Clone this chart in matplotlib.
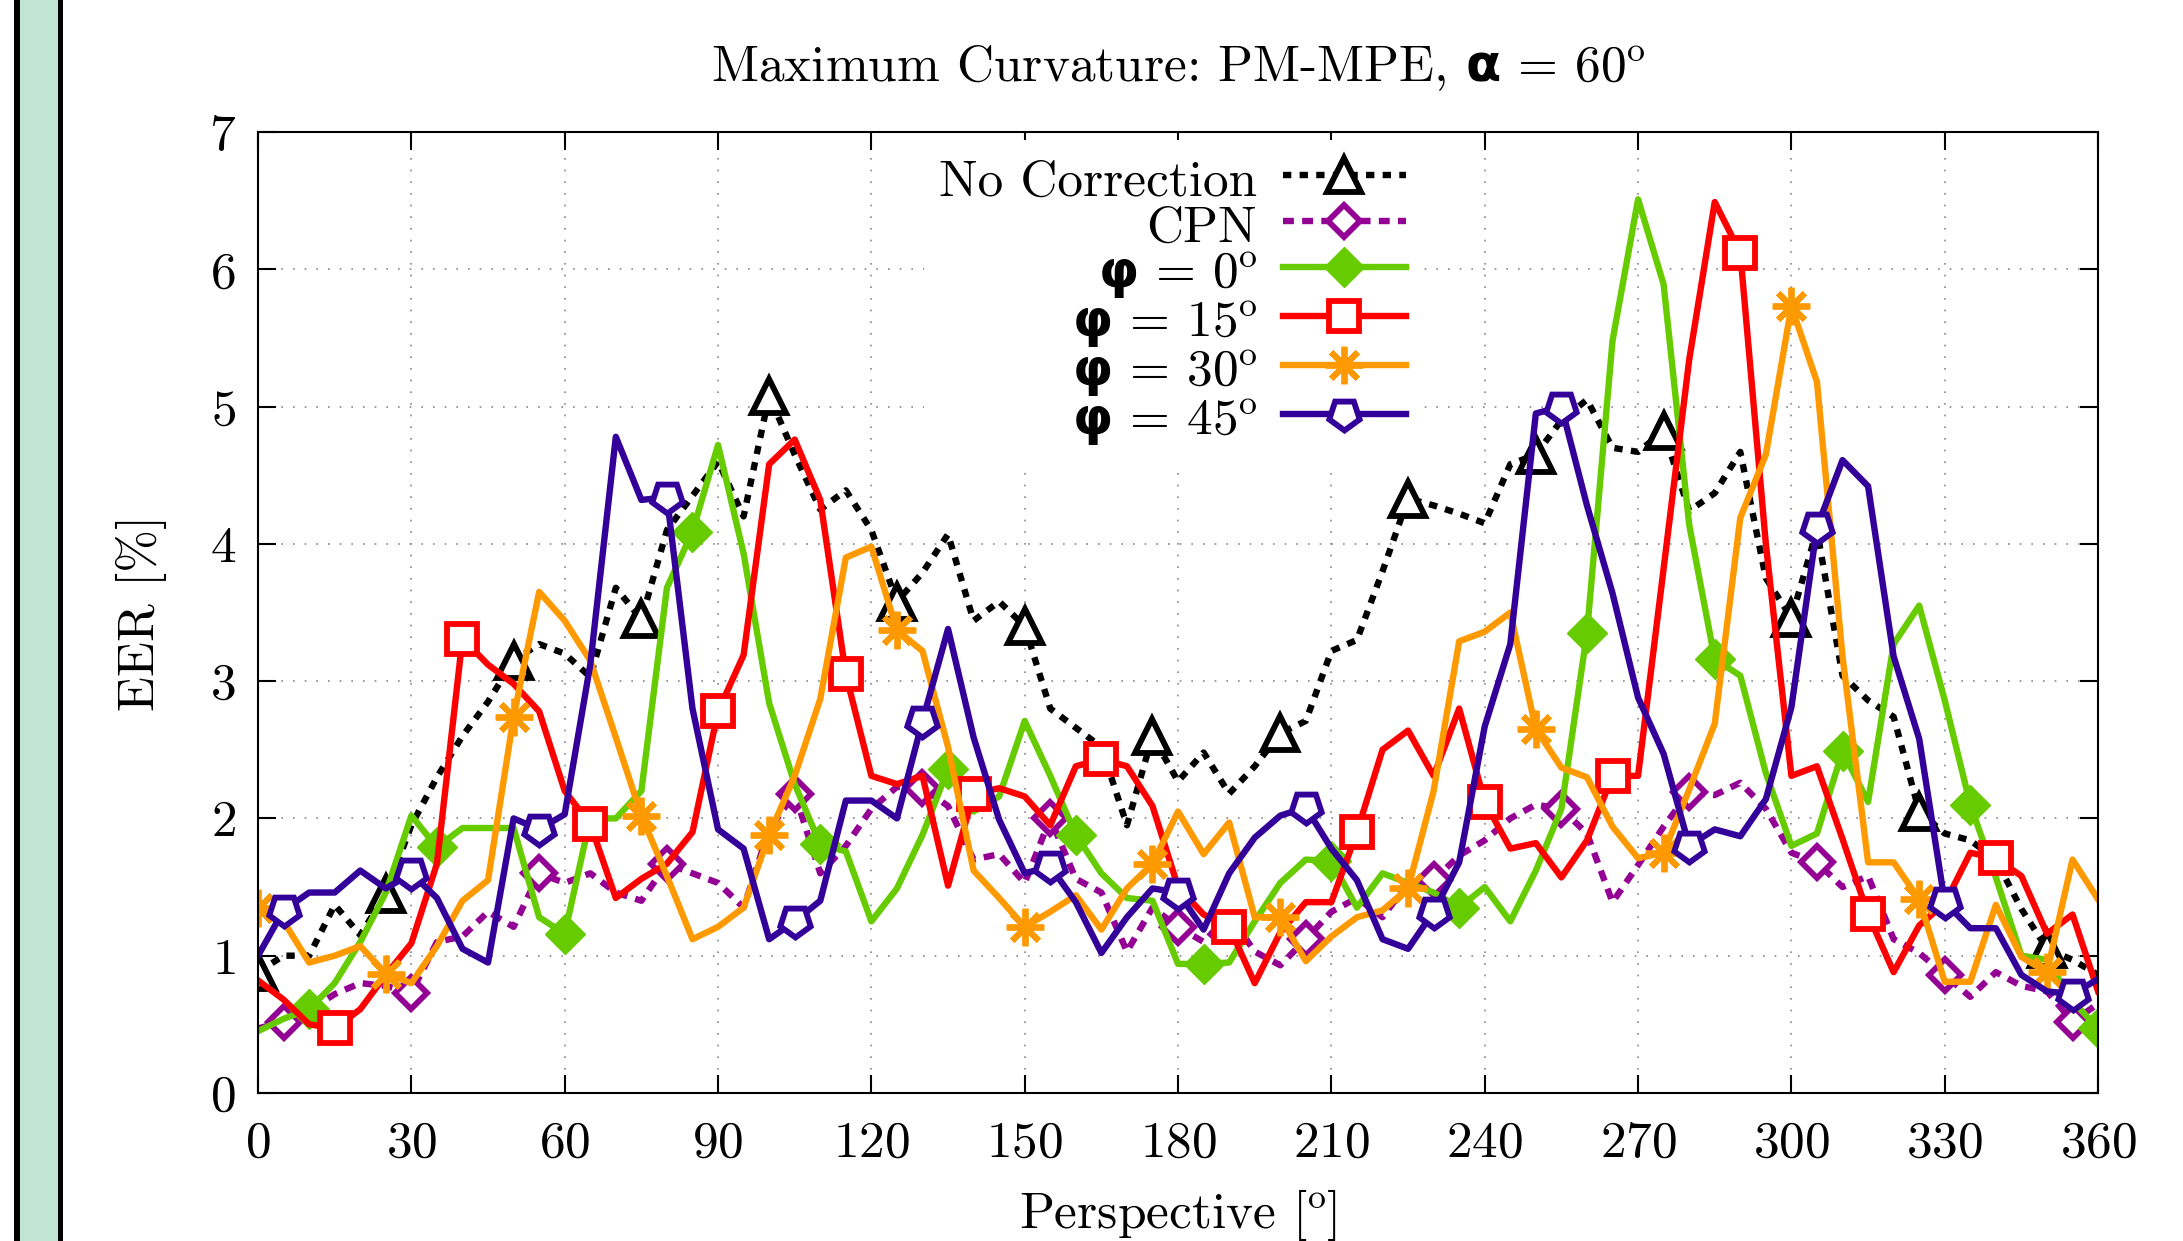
import numpy as np
import matplotlib
matplotlib.use("Agg")
import matplotlib.pyplot as plt
from matplotlib.patches import Rectangle

plt.rcParams['font.family'] = ['cmr10']
plt.rcParams['mathtext.fontset'] = 'custom'
plt.rcParams['mathtext.rm'] = 'cmr10'
plt.rcParams['mathtext.sf'] = 'DejaVu Sans:bold'
plt.rcParams['axes.formatter.use_mathtext'] = True

# perspective angles, every 5 degrees
angles = np.arange(0, 361, 5)

no_correction = [
    0.88, 1.0, 1.0, 1.37, 1.15, 1.45, 1.95, 2.3, 2.6, 2.85, 3.15, 3.27,
    3.2, 3.03, 3.68, 3.45, 4.1, 4.35, 4.6, 4.2, 5.08, 4.65, 4.25, 4.39,
    4.1, 3.58, 3.79, 4.07, 3.44, 3.58, 3.4, 2.8, 2.66, 2.52, 1.95, 2.6,
    2.27, 2.48, 2.18, 2.38, 2.62, 2.71, 3.22, 3.3, 3.8, 4.33, 4.28, 4.22,
    4.15, 4.58, 4.65, 4.9, 5.05, 4.7, 4.67, 4.82, 4.24, 4.37, 4.67, 3.75,
    3.46, 4.1, 3.04, 2.86, 2.74, 2.05, 1.89, 1.84, 1.7, 1.34, 1.05, 0.97,
    0.86]
cpn = [
    0.47, 0.52, 0.6, 0.72, 0.8, 0.78, 0.73, 1.1, 1.14, 1.32, 1.21, 1.6,
    1.53, 1.6, 1.46, 1.4, 1.67, 1.6, 1.53, 1.35, 1.92, 2.18, 1.6, 1.8,
    2.07, 2.23, 2.22, 2.09, 1.7, 1.74, 1.53, 2.0, 1.56, 1.46, 1.03, 1.35,
    1.21, 1.1, 1.3, 1.03, 0.93, 1.12, 1.32, 1.42, 1.28, 1.53, 1.55, 1.73,
    1.84, 2.0, 2.1, 2.07, 1.89, 1.39, 1.66, 1.94, 2.19, 2.17, 2.26, 2.07,
    1.75, 1.68, 1.5, 1.58, 1.12, 1.02, 0.86, 0.7, 0.88, 0.78, 0.74, 0.52,
    0.65]
phi0 = [
    0.45, 0.54, 0.61, 0.8, 1.1, 1.46, 2.02, 1.79, 1.93, 1.93, 1.93, 1.28,
    1.16, 2.0, 2.0, 2.2, 3.68, 4.09, 4.72, 3.93, 2.84, 2.25, 1.81, 1.76,
    1.25, 1.49, 1.88, 2.36, 2.05, 2.16, 2.71, 2.31, 1.88, 1.6, 1.42, 1.4,
    0.94, 0.94, 0.95, 1.25, 1.53, 1.7, 1.69, 1.35, 1.6, 1.53, 1.46, 1.35,
    1.5, 1.25, 1.62, 2.07, 3.35, 5.48, 6.51, 5.89, 4.14, 3.16, 3.04, 2.33,
    1.8, 1.89, 2.49, 2.12, 3.27, 3.55, 2.86, 2.1, 1.57, 1.0, 0.97, 0.67,
    0.47]
phi15 = [
    0.82, 0.68, 0.5, 0.47, 0.61, 0.86, 1.09, 1.67, 3.31, 3.12, 2.98, 2.78,
    2.2, 1.96, 1.42, 1.56, 1.67, 1.9, 2.78, 3.19, 4.58, 4.76, 4.32, 3.05,
    2.31, 2.25, 2.31, 1.51, 2.18, 2.22, 2.16, 1.95, 2.38, 2.43, 2.38, 2.09,
    1.5, 1.3, 1.21, 0.8, 1.17, 1.39, 1.39, 1.9, 2.5, 2.64, 2.31, 2.8,
    2.12, 1.78, 1.82, 1.57, 1.84, 2.31, 2.31, 3.82, 5.34, 6.49, 6.12, 4.0,
    2.31, 2.38, 1.85, 1.3, 0.88, 1.22, 1.38, 1.75, 1.71, 1.58, 1.16, 1.3,
    0.74]
phi30 = [
    1.35, 1.25, 0.95, 1.0, 1.07, 0.87, 0.8, 1.07, 1.4, 1.55, 2.74, 3.65,
    3.44, 3.15, 2.59, 2.02, 1.58, 1.12, 1.21, 1.35, 1.88, 2.31, 2.87, 3.9,
    3.98, 3.37, 3.22, 2.52, 1.62, 1.42, 1.21, 1.32, 1.44, 1.19, 1.49, 1.67,
    2.05, 1.74, 1.97, 1.28, 1.28, 0.96, 1.14, 1.28, 1.33, 1.49, 2.2, 3.29,
    3.36, 3.5, 2.65, 2.37, 2.3, 1.94, 1.71, 1.75, 2.21, 2.69, 4.19, 4.65,
    5.73, 5.18, 3.18, 1.68, 1.68, 1.41, 0.81, 0.81, 1.37, 0.99, 0.88, 1.7,
    1.41]
phi45 = [
    1.0, 1.33, 1.46, 1.46, 1.62, 1.49, 1.6, 1.42, 1.05, 0.95, 2.0, 1.92,
    2.03, 3.12, 4.78, 4.32, 4.34, 2.8, 1.92, 1.78, 1.12, 1.25, 1.4, 2.13,
    2.13, 2.0, 2.71, 3.38, 2.59, 1.99, 1.6, 1.65, 1.39, 1.02, 1.28, 1.49,
    1.46, 1.19, 1.6, 1.86, 2.02, 2.08, 1.78, 1.55, 1.12, 1.05, 1.32, 1.68,
    2.67, 3.27, 4.95, 5.0, 4.28, 3.64, 2.88, 2.47, 1.8, 1.92, 1.87, 2.14,
    2.81, 4.12, 4.61, 4.42, 3.18, 2.58, 1.39, 1.2, 1.2, 0.86, 0.74, 0.72,
    0.83]

xticks = np.arange(0, 361, 30)
yticks = np.arange(0, 8, 1)

fig = plt.figure(figsize=(21.83, 12.41), dpi=100)
ax = fig.add_axes([0.1182, 0.1193, 0.8429, 0.7743])

# slide decoration on the left edge
fig.add_artist(Rectangle((14 / 2183, 0), 49 / 2183, 1, transform=fig.transFigure,
                         facecolor='black', edgecolor='none'))
fig.add_artist(Rectangle((20 / 2183, 0), 38 / 2183, 1, transform=fig.transFigure,
                         facecolor='#c0e5d5', edgecolor='none'))

fs = 37
lw = 4.6
mew = 4.2
ax.plot(angles, no_correction, color='black', lw=lw, dashes=(1.3, 1.3),
        marker='^', ms=24, mfc='white', mew=mew, markevery=(0, 5),
        label='No Correction')
ax.plot(angles, cpn, color='#940094', lw=lw, dashes=(1.7, 1.3),
        marker='D', ms=16, mfc='white', mew=mew, markevery=(1, 5),
        label='CPN')
ax.plot(angles, phi0, color='#66cc00', lw=lw,
        marker='D', ms=20, mew=1, markevery=(2, 5),
        label='$\\mathsf{\\varphi}$ = 0$^{\\mathrm{o}}$')
ax.plot(angles, phi15, color='red', lw=lw,
        marker='s', ms=21, mfc='white', mew=mew, markevery=(3, 5),
        label='$\\mathsf{\\varphi}$ = 15$^{\\mathrm{o}}$')
ax.plot(angles, phi30, color='#ff9900', lw=lw,
        marker=(8, 2, 0), ms=27, mew=mew, markevery=(0, 5),
        label='$\\mathsf{\\varphi}$ = 30$^{\\mathrm{o}}$')
ax.plot(angles, phi45, color='#330099', lw=lw,
        marker=(5, 0, 180), ms=23, mfc='white', mew=mew, markevery=(1, 5),
        label='$\\mathsf{\\varphi}$ = 45$^{\\mathrm{o}}$')

ax.set_xlim(0, 360)
ax.set_ylim(0, 7)
ax.set_xticks(xticks)
ax.set_yticks(yticks)
ax.grid(True, color='#888888', lw=1.2, dashes=(1, 6))
ax.tick_params(direction='in', length=13, width=1.5, top=True, right=True,
               labelsize=fs)
ax.tick_params(axis='x', pad=20)
ax.tick_params(axis='y', pad=16)
for s in ax.spines.values():
    s.set_linewidth(1.5)

ax.set_title('Maximum Curvature: PM-MPE, $\\mathsf{\\alpha}$ = 60$^{\\mathrm{o}}$',
             fontsize=fs, pad=36)
ax.set_xlabel('Perspective [$^{\\mathrm{o}}$]', fontsize=fs, labelpad=15)
ax.set_ylabel('EER [%]', fontsize=fs, labelpad=30)

leg = ax.legend(loc='upper center', bbox_to_anchor=(0.497, 1.0), ncol=1,
                markerfirst=False, numpoints=1, fontsize=fs, frameon=True,
                framealpha=1, facecolor='white', edgecolor='none',
                fancybox=False, handlelength=2.4, handleheight=1.0,
                labelspacing=-0.09, borderpad=0.3, handletextpad=0.5,
                borderaxespad=0.15)
for t in leg.get_texts():
    t.set_ha('right')

fig.savefig('out.png', dpi=100)
